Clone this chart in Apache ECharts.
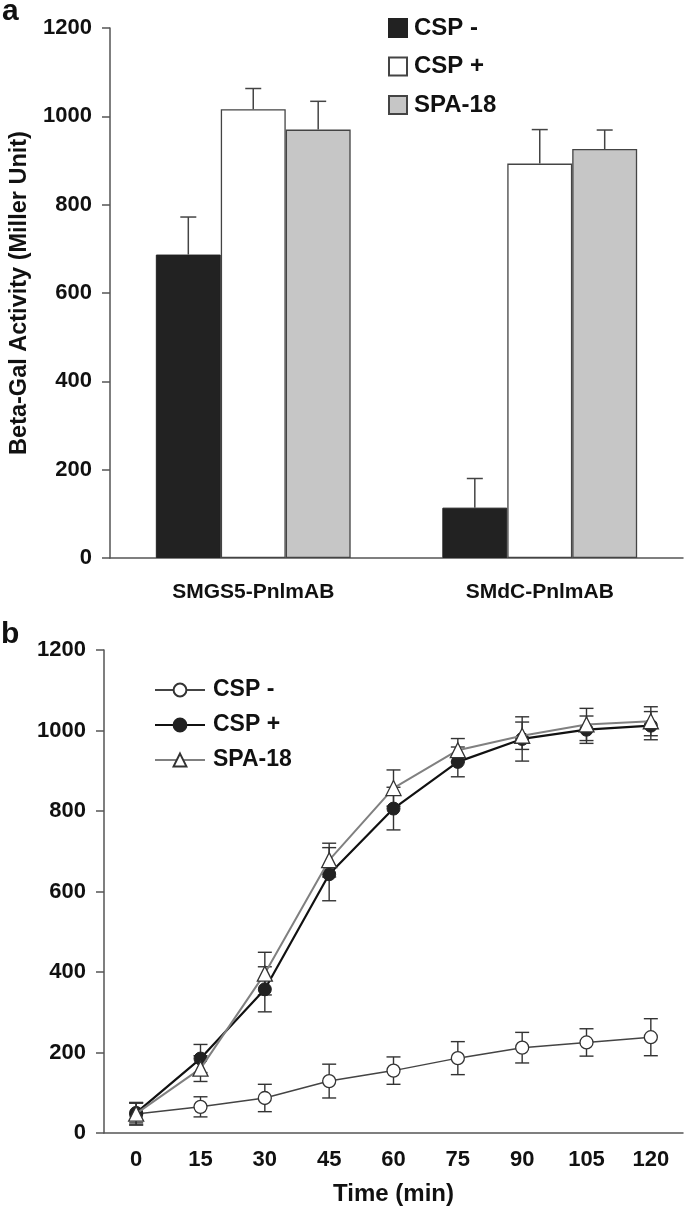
<!DOCTYPE html>
<html>
<head>
<meta charset="utf-8">
<script src="https://cdn.jsdelivr.net/npm/echarts@6/dist/echarts.min.js"></script>
<style>
html,body{margin:0;padding:0;background:#fff;}
#chart{width:685px;height:1209px;}
</style>
</head>
<body>
<div id="chart"></div>
<script>
// ---- Panel a data ----
const strainsA = ['SMGS5-PnlmAB', 'SMdC-PnlmAB'];
const cspMinusA = [687, 114];
const cspMinusAErr = [85, 66];
const cspPlusA = [1016, 893];
const cspPlusAErr = [47, 77];
const spa18A = [970, 926];
const spa18AErr = [64, 43];
const yTicksA = [0, 200, 400, 600, 800, 1000, 1200];

// ---- Panel b data ----
const timesB = ['0', '15', '30', '45', '60', '75', '90', '105', '120'];
const cspMinusB = [47, 65, 87, 129, 155, 186, 212, 225, 238];
const cspMinusBErr = [27, 25, 34, 42, 34, 41, 38, 34, 46];
const cspPlusB = [50, 185, 357, 643, 806, 922, 979, 1002, 1012];
const cspPlusBErr = [25, 35, 56, 66, 53, 37, 55, 34, 35];
const spa18B = [48, 160, 396, 678, 857, 951, 987, 1015, 1023];
const spa18BErr = [28, 32, 53, 42, 45, 29, 34, 40, 36];
const yTicksB = [0, 200, 400, 600, 800, 1000, 1200];

const seriesNames = ['CSP -', 'CSP +', 'SPA-18'];
const FONT = 'Liberation Sans, Arial, sans-serif';
const AXIS_COLOR = '#555';
const CAT_GAP = 0.32;

const chart = echarts.init(document.getElementById('chart'), null, {renderer: 'canvas'});

function barErrData() {
  const out = [];
  [[cspMinusA, cspMinusAErr], [cspPlusA, cspPlusAErr], [spa18A, spa18AErr]].forEach((pair, k) => {
    pair[0].forEach((v, i) => out.push([i, v, pair[1][i], k]));
  });
  return out;
}
function lineErrData(vals, errs) {
  return vals.map((v, i) => [i, v, errs[i]]);
}

function barErrRender(params, api) {
  const i = api.value(0), v = api.value(1), e = api.value(2), k = api.value(3);
  const band = api.size([1, 0])[0];
  const bw = band * (1 - CAT_GAP) / 3;
  const base = api.coord([i, v]);
  const top = api.coord([i, v + e]);
  const cx = base[0] + (k - 1) * bw;
  const half = 8;
  const style = {stroke: '#444', lineWidth: 1.5};
  return {
    type: 'group',
    children: [
      {type: 'line', shape: {x1: cx, y1: base[1], x2: cx, y2: top[1]}, style},
      {type: 'line', shape: {x1: cx - half, y1: top[1], x2: cx + half, y2: top[1]}, style}
    ]
  };
}
function lineErrRender(params, api) {
  const i = api.value(0), v = api.value(1), e = api.value(2);
  const hi = api.coord([i, v + e]);
  const lo = api.coord([i, v - e]);
  const half = 7;
  const style = {stroke: '#333', lineWidth: 1.4};
  return {
    type: 'group',
    children: [
      {type: 'line', shape: {x1: hi[0], y1: hi[1], x2: lo[0], y2: lo[1]}, style},
      {type: 'line', shape: {x1: hi[0] - half, y1: hi[1], x2: hi[0] + half, y2: hi[1]}, style},
      {type: 'line', shape: {x1: lo[0] - half, y1: lo[1], x2: lo[0] + half, y2: lo[1]}, style}
    ]
  };
}

const plainNum = v => String(v);
const yLabelStyle = {fontFamily: FONT, fontSize: 22, fontWeight: 'bold', color: '#111', margin: 18, formatter: plainNum};

const option = {
  animation: false,
  backgroundColor: '#fff',
  textStyle: {fontFamily: FONT},
  graphic: [
    {type: 'text', left: 2, top: -3, style: {text: 'a', fontFamily: FONT, fontSize: 30, fontWeight: 'bold', fill: '#111'}},
    {type: 'text', left: 1, top: 620, style: {text: 'b', fontFamily: FONT, fontSize: 30, fontWeight: 'bold', fill: '#111'}}
  ],
  legend: [
    {
      data: seriesNames.map(n => n + ' (a)'),
      formatter: n => n.replace(' (a)', ''),
      orient: 'vertical', left: 388, top: 16, padding: 0,
      icon: 'rect',
      itemWidth: 18, itemHeight: 18, itemGap: 14.5,
      textStyle: {fontFamily: FONT, fontSize: 24, fontWeight: 'bold', color: '#111', padding: [0, 0, 0, 2]},
      selectedMode: false
    },
    {
      data: seriesNames.map(n => n + ' (b)'),
      formatter: n => n.replace(' (b)', ''),
      orient: 'vertical', left: 154, top: 678.5, padding: 0,
      itemWidth: 50, itemHeight: 16, itemGap: 12,
      textStyle: {fontFamily: FONT, fontSize: 23, fontWeight: 'bold', color: '#111', padding: [0, 0, 0, 3]},
      selectedMode: false
    }
  ],
  grid: [
    {left: 104, right: 2, top: 28, bottom: 651},
    {left: 104, right: 2, top: 650, bottom: 76}
  ],
  xAxis: [
    {
      gridIndex: 0, type: 'category', data: strainsA,
      axisLine: {lineStyle: {color: AXIS_COLOR, width: 1.5}},
      axisTick: {length: 9, lineStyle: {color: AXIS_COLOR, width: 1.5}},
      axisLabel: {fontFamily: FONT, fontSize: 21, fontWeight: 'bold', color: '#111', margin: 24}
    },
    {
      gridIndex: 1, type: 'category', data: timesB,
      axisLine: {lineStyle: {color: AXIS_COLOR, width: 1.5}},
      axisTick: {length: 8, lineStyle: {color: AXIS_COLOR, width: 1.5}},
      axisLabel: {fontFamily: FONT, fontSize: 22, fontWeight: 'bold', color: '#111', margin: 16},
      name: 'Time (min)', nameLocation: 'middle', nameGap: 49,
      nameTextStyle: {fontFamily: FONT, fontSize: 24, fontWeight: 'bold', color: '#111'}
    }
  ],
  yAxis: [
    {
      gridIndex: 0, type: 'value', min: yTicksA[0], max: yTicksA[yTicksA.length - 1], interval: 200,
      axisLine: {show: true, lineStyle: {color: AXIS_COLOR, width: 1.5}},
      axisTick: {show: true, length: 8, lineStyle: {color: AXIS_COLOR, width: 1.5}},
      splitLine: {show: false},
      axisLabel: yLabelStyle,
      name: 'Beta-Gal Activity (Miller Unit)', nameLocation: 'middle', nameRotate: 90, nameGap: 78,
      nameTextStyle: {fontFamily: FONT, fontSize: 23.5, fontWeight: 'bold', color: '#111'}
    },
    {
      gridIndex: 1, type: 'value', min: yTicksB[0], max: yTicksB[yTicksB.length - 1], interval: 200,
      axisLine: {show: true, lineStyle: {color: AXIS_COLOR, width: 1.5}},
      axisTick: {show: true, length: 8, lineStyle: {color: AXIS_COLOR, width: 1.5}},
      splitLine: {show: false},
      axisLabel: yLabelStyle
    }
  ],
  series: [
    {
      name: 'CSP - (a)', type: 'bar', xAxisIndex: 0, yAxisIndex: 0, data: cspMinusA,
      barGap: '0%', barCategoryGap: (CAT_GAP * 100) + '%',
      itemStyle: {color: '#222', borderColor: '#222', borderWidth: 1}
    },
    {
      name: 'CSP + (a)', type: 'bar', xAxisIndex: 0, yAxisIndex: 0, data: cspPlusA,
      barGap: '0%', barCategoryGap: (CAT_GAP * 100) + '%',
      itemStyle: {color: '#fff', borderColor: '#444', borderWidth: 1.3}
    },
    {
      name: 'SPA-18 (a)', type: 'bar', xAxisIndex: 0, yAxisIndex: 0, data: spa18A,
      barGap: '0%', barCategoryGap: (CAT_GAP * 100) + '%',
      itemStyle: {color: '#c6c6c6', borderColor: '#444', borderWidth: 1.3}
    },
    {
      type: 'custom', xAxisIndex: 0, yAxisIndex: 0, data: barErrData(),
      renderItem: barErrRender, z: 3, silent: true
    },
    {
      type: 'custom', xAxisIndex: 1, yAxisIndex: 1, data: lineErrData(cspMinusB, cspMinusBErr),
      renderItem: lineErrRender, z: 1, silent: true
    },
    {
      type: 'custom', xAxisIndex: 1, yAxisIndex: 1, data: lineErrData(cspPlusB, cspPlusBErr),
      renderItem: lineErrRender, z: 1, silent: true
    },
    {
      type: 'custom', xAxisIndex: 1, yAxisIndex: 1, data: lineErrData(spa18B, spa18BErr),
      renderItem: lineErrRender, z: 1, silent: true
    },
    {
      name: 'CSP - (b)', type: 'line', xAxisIndex: 1, yAxisIndex: 1, data: cspMinusB,
      symbol: 'circle', symbolSize: 13,
      lineStyle: {color: '#444', width: 1.5},
      itemStyle: {color: '#fff', borderColor: '#333', borderWidth: 1.3}, z: 4
    },
    {
      name: 'CSP + (b)', type: 'line', xAxisIndex: 1, yAxisIndex: 1, data: cspPlusB,
      symbol: 'circle', symbolSize: 13,
      lineStyle: {color: '#111', width: 2.2},
      itemStyle: {color: '#222', borderColor: '#222', borderWidth: 1}, z: 5
    },
    {
      name: 'SPA-18 (b)', type: 'line', xAxisIndex: 1, yAxisIndex: 1, data: spa18B,
      symbol: 'triangle', symbolSize: 15,
      lineStyle: {color: '#808080', width: 2},
      itemStyle: {color: '#fff', borderColor: '#333', borderWidth: 1.3}, z: 6
    }
  ]
};
chart.setOption(option);
</script>
</body>
</html>
